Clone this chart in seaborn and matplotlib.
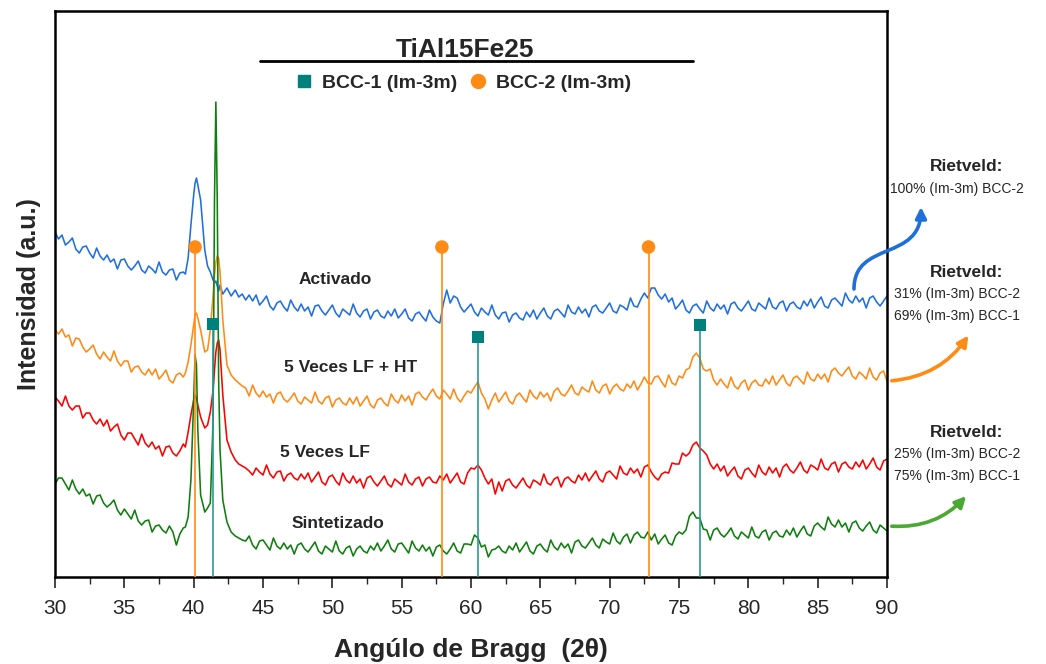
import matplotlib
matplotlib.use('Agg')
import matplotlib.pyplot as plt
from matplotlib.lines import Line2D
from matplotlib.patches import FancyArrowPatch
from matplotlib.path import Path
from matplotlib.ticker import MultipleLocator
import pandas as pd
import seaborn as sns

# 2-theta sampling: 0.25 deg steps, finer around the 40-42 deg peaks
two_theta = [
    30.0, 30.25, 30.5, 30.75, 31.0, 31.25, 31.5, 31.75,
    32.0, 32.25, 32.5, 32.75, 33.0, 33.25, 33.5, 33.75,
    34.0, 34.25, 34.5, 34.75, 35.0, 35.25, 35.5, 35.75,
    36.0, 36.25, 36.5, 36.75, 37.0, 37.25, 37.5, 37.75,
    38.0, 38.25, 38.5, 38.75, 39.0, 39.25,
    39.4, 39.6, 39.8, 40.0, 40.1, 40.2, 40.3, 40.5, 40.8, 41.0, 41.2, 41.4,
    41.5, 41.6, 41.7, 41.8, 41.9, 42.1, 42.4, 42.7, 43.0, 43.25, 43.5, 43.75,
    44.0, 44.25, 44.5, 44.75, 45.0, 45.25, 45.5, 45.75,
    46.0, 46.25, 46.5, 46.75, 47.0, 47.25, 47.5, 47.75,
    48.0, 48.25, 48.5, 48.75, 49.0, 49.25, 49.5, 49.75,
    50.0, 50.25, 50.5, 50.75, 51.0, 51.25, 51.5, 51.75,
    52.0, 52.25, 52.5, 52.75, 53.0, 53.25, 53.5, 53.75,
    54.0, 54.25, 54.5, 54.75, 55.0, 55.25, 55.5, 55.75,
    56.0, 56.25, 56.5, 56.75, 57.0, 57.25, 57.5, 57.75,
    58.0, 58.25, 58.5, 58.75, 59.0, 59.25, 59.5, 59.75,
    60.0, 60.25, 60.5, 60.75, 61.0, 61.25, 61.5, 61.75,
    62.0, 62.25, 62.5, 62.75, 63.0, 63.25, 63.5, 63.75,
    64.0, 64.25, 64.5, 64.75, 65.0, 65.25, 65.5, 65.75,
    66.0, 66.25, 66.5, 66.75, 67.0, 67.25, 67.5, 67.75,
    68.0, 68.25, 68.5, 68.75, 69.0, 69.25, 69.5, 69.75,
    70.0, 70.25, 70.5, 70.75, 71.0, 71.25, 71.5, 71.75,
    72.0, 72.25, 72.5, 72.75, 73.0, 73.25, 73.5, 73.75,
    74.0, 74.25, 74.5, 74.75, 75.0, 75.25, 75.5, 75.75,
    76.0, 76.25, 76.5, 76.75, 77.0, 77.25, 77.5, 77.75,
    78.0, 78.25, 78.5, 78.75, 79.0, 79.25, 79.5, 79.75,
    80.0, 80.25, 80.5, 80.75, 81.0, 81.25, 81.5, 81.75,
    82.0, 82.25, 82.5, 82.75, 83.0, 83.25, 83.5, 83.75,
    84.0, 84.25, 84.5, 84.75, 85.0, 85.25, 85.5, 85.75,
    86.0, 86.25, 86.5, 86.75, 87.0, 87.25, 87.5, 87.75,
    88.0, 88.25, 88.5, 88.75, 89.0, 89.25, 89.5, 89.75,
    90.0]

activado = [
    345, 338, 342, 332, 335, 339, 328, 324,
    330, 331, 324, 319, 329, 321, 317, 322,
    315, 318, 308, 317, 318, 311, 307, 311,
    316, 307, 304, 311, 308, 304, 315, 305,
    302, 307, 308, 297, 304, 305,
    303, 319, 352, 382, 394, 399, 392, 377, 327, 311, 305, 297,
    294, 296, 291, 286, 292, 283, 289, 281, 287, 280, 283, 277,
    282, 276, 282, 272, 276, 281, 271, 267,
    274, 276, 270, 266, 277, 270, 266, 273,
    266, 270, 261, 271, 272, 266, 262, 267,
    272, 264, 260, 268, 265, 262, 273, 264,
    260, 266, 268, 258, 265, 267, 261, 259,
    266, 261, 268, 259, 263, 268, 259, 256,
    263, 265, 260, 256, 267, 260, 256, 254,
    273, 287, 274, 281, 279, 270, 265, 269,
    273, 265, 261, 269, 265, 262, 272, 262,
    258, 264, 265, 255, 262, 264, 259, 257,
    265, 260, 267, 258, 264, 269, 261, 258,
    266, 268, 264, 260, 272, 265, 263, 270,
    264, 268, 260, 270, 272, 266, 264, 269,
    274, 266, 264, 272, 270, 267, 279, 271,
    270, 278, 284, 279, 289, 289, 282, 278,
    283, 275, 279, 268, 272, 277, 267, 264,
    271, 273, 268, 264, 276, 269, 266, 273,
    268, 272, 263, 273, 275, 269, 266, 271,
    276, 268, 266, 274, 271, 268, 279, 270,
    268, 274, 276, 266, 273, 275, 270, 268,
    276, 271, 278, 269, 275, 280, 271, 269,
    277, 279, 275, 271, 284, 277, 274, 281,
    275, 279, 269, 279, 281, 275, 271, 276,
    281]

lf_ht = [
    247, 243, 248, 240, 242, 231, 239, 238,
    230, 225, 228, 232, 223, 218, 225, 220,
    216, 226, 216, 211, 216, 216, 205, 210,
    211, 205, 202, 208, 202, 208, 198, 202,
    207, 197, 194, 202, 204, 200,
    204, 215, 232, 252, 262, 264, 259, 247, 225, 227, 247, 282,
    302, 315, 321, 319, 305, 257, 212, 202, 197, 194, 191, 189,
    181, 192, 184, 180, 186, 180, 183, 174,
    183, 185, 178, 175, 179, 184, 176, 173,
    180, 177, 174, 185, 176, 173, 179, 181,
    170, 177, 179, 174, 172, 179, 173, 180,
    171, 176, 181, 172, 169, 177, 179, 174,
    171, 183, 177, 174, 182, 176, 181, 172,
    183, 185, 180, 177, 183, 188, 181, 178,
    187, 183, 178, 188, 179, 175, 181, 186,
    184, 190, 195, 184, 178, 168, 177, 184,
    175, 180, 185, 176, 173, 181, 184, 179,
    175, 187, 181, 178, 185, 180, 184, 176,
    186, 189, 183, 181, 186, 192, 184, 182,
    190, 187, 185, 196, 187, 184, 191, 193,
    183, 190, 193, 188, 186, 193, 189, 196,
    187, 193, 200, 194, 193, 200, 201, 195,
    190, 202, 194, 192, 201, 199, 207, 209,
    220, 224, 219, 208, 206, 208, 197, 192,
    198, 193, 189, 200, 191, 188, 194, 197,
    187, 194, 197, 192, 191, 198, 193, 201,
    192, 197, 202, 194, 191, 199, 201, 197,
    193, 205, 198, 196, 203, 198, 203, 195,
    206, 209, 204, 201, 206, 210, 201, 198,
    205, 202, 198, 209, 200, 197, 204, 206,
    196]

lf = [
    180, 176, 171, 181, 171, 167, 171, 171,
    159, 164, 164, 157, 153, 158, 151, 157,
    146, 150, 153, 142, 137, 144, 144, 138,
    132, 143, 134, 130, 135, 128, 131, 121,
    130, 131, 124, 121, 126, 133,
    130, 145, 162, 177, 182, 179, 172, 160, 149, 152, 165, 187,
    207, 225, 234, 237, 227, 182, 137, 125, 117, 113, 111, 109,
    106, 102, 109, 105, 102, 112, 103, 99,
    105, 106, 96, 102, 104, 99, 97, 103,
    98, 104, 95, 100, 105, 95, 92, 100,
    102, 96, 92, 104, 97, 94, 101, 94,
    98, 89, 99, 101, 95, 91, 96, 101,
    93, 90, 98, 95, 92, 103, 95, 92,
    98, 100, 91, 98, 100, 95, 94, 101,
    97, 103, 94, 99, 104, 95, 93, 104,
    109, 108, 112, 107, 99, 93, 98, 83,
    95, 86, 96, 98, 92, 89, 94, 99,
    92, 89, 97, 95, 92, 103, 94, 92,
    98, 100, 90, 98, 100, 96, 94, 102,
    97, 104, 96, 101, 106, 98, 95, 104,
    106, 102, 98, 111, 104, 102, 109, 104,
    108, 100, 110, 112, 105, 100, 97, 103,
    105, 104, 114, 113, 113, 124, 121, 124,
    132, 135, 129, 126, 122, 113, 108, 113,
    106, 111, 101, 106, 110, 101, 98, 107,
    109, 104, 100, 112, 105, 102, 110, 104,
    109, 100, 110, 113, 107, 104, 109, 115,
    107, 104, 112, 110, 107, 118, 109, 107,
    113, 115, 105, 113, 115, 110, 108, 115,
    110, 117, 108, 113, 119, 110, 107, 116,
    118]

sintetizado = [
    93, 99, 99, 93, 87, 97, 88, 83,
    88, 81, 83, 73, 81, 82, 74, 70,
    73, 77, 67, 62, 68, 63, 58, 67,
    56, 52, 56, 57, 45, 51, 52, 47,
    44, 51, 45, 32, 43, 49,
    50, 60, 97, 177, 222, 212, 147, 82, 65, 69, 74, 157,
    377, 475, 377, 197, 127, 77, 55, 45, 41, 39, 37, 36,
    41, 32, 28, 36, 37, 32, 27, 39,
    31, 28, 34, 28, 32, 23, 32, 34,
    28, 25, 30, 35, 26, 23, 31, 28,
    25, 36, 26, 23, 29, 31, 21, 28,
    31, 26, 24, 31, 27, 34, 26, 31,
    37, 28, 25, 33, 34, 29, 24, 36,
    29, 26, 32, 26, 30, 21, 30, 32,
    26, 23, 28, 34, 26, 24, 33, 33,
    32, 42, 39, 30, 32, 20, 27, 28,
    31, 26, 24, 31, 27, 34, 25, 30,
    35, 26, 23, 31, 33, 28, 25, 37,
    30, 27, 34, 29, 33, 24, 35, 37,
    31, 29, 34, 39, 32, 29, 38, 35,
    33, 44, 36, 33, 40, 43, 34, 42,
    45, 40, 39, 45, 37, 43, 33, 38,
    42, 34, 32, 41, 45, 43, 47, 61,
    65, 59, 59, 48, 47, 37, 47, 49,
    43, 40, 44, 49, 41, 38, 45, 42,
    39, 50, 41, 39, 45, 47, 37, 44,
    46, 41, 40, 47, 42, 49, 40, 46,
    51, 43, 41, 51, 54, 50, 47, 60,
    53, 50, 57, 50, 54, 45, 54, 56,
    49, 46, 51, 55, 47, 44, 52, 49,
    46]

samples = ['Activado', '5 Veces LF + HT', '5 Veces LF', 'Sintetizado']
sample_colors = ['#1F6FE0', '#FF8A14', '#FF0000', '#0E7F0E']

# reference peak positions
bcc1_pos = [41.4, 60.5, 76.5]
bcc1_height = [253, 240, 252]
bcc2_pos = [40.1, 57.9, 72.8]
bcc2_height = [330, 330, 330]

rietveld_blocks = [['100% (Im-3m) BCC-2'],
                   ['31% (Im-3m) BCC-2', '69% (Im-3m) BCC-1'],
                   ['25% (Im-3m) BCC-2', '75% (Im-3m) BCC-1']]

df = pd.concat([pd.DataFrame({'two_theta': two_theta, 'intensity': vals, 'muestra': name})
                for name, vals in zip(samples, [activado, lf_ht, lf, sintetizado])],
               ignore_index=True)

sns.set_style('white')
plt.rcParams['font.family'] = ['Liberation Sans', 'DejaVu Sans']

teal = '#00807C'
orange = '#FF8A14'

fig = plt.figure(figsize=(10.46, 6.64), dpi=100)
ax = fig.add_axes([0.0526, 0.131, 0.7954, 0.8524])

sns.lineplot(data=df, x='two_theta', y='intensity', hue='muestra', hue_order=samples,
             palette=sample_colors, estimator=None, sort=False, linewidth=1.15,
             legend=False, ax=ax)

# reference lines + markers
ax.vlines(bcc2_pos, 0, bcc2_height, color=orange, lw=1.2, zorder=4)
ax.vlines(bcc1_pos, 0, bcc1_height, color='#2A9A98', lw=1.2, zorder=4)
sns.scatterplot(x=bcc2_pos, y=bcc2_height, marker='o', s=95, color=orange,
                edgecolor='none', zorder=5, ax=ax)
sns.scatterplot(x=bcc1_pos, y=bcc1_height, marker='s', s=70, color=teal,
                edgecolor='none', zorder=5, ax=ax)

ax.set_xlim(30, 90)
ax.set_ylim(0, 566)
ax.set_yticks([])
ax.xaxis.set_major_locator(MultipleLocator(5))
ax.xaxis.set_minor_locator(MultipleLocator(2.5))
ax.tick_params(axis='x', which='major', direction='out', length=8, width=1.2,
               labelsize=15, pad=8, bottom=True)
ax.tick_params(axis='x', which='minor', direction='out', length=5, width=1.0, bottom=True)
for sp in ax.spines.values():
    sp.set_linewidth(1.8)
    sp.set_color('black')

ax.set_xlabel('Angúlo de Bragg  (2θ)', fontsize=19, fontweight='bold', labelpad=14)
ax.set_ylabel('Intensidad (a.u.)', fontsize=18, fontweight='bold', labelpad=10)

# title block with underline and legend
ax.text(0.493, 0.932, 'TiAl15Fe25', transform=ax.transAxes, ha='center', va='center',
        fontsize=19, fontweight='bold')
ax.add_line(Line2D([0.246, 0.767], [0.912, 0.912], transform=ax.transAxes,
                   color='black', lw=2))
handles = [Line2D([], [], marker='s', color=teal, linestyle='', markersize=9),
           Line2D([], [], marker='o', color=orange, linestyle='', markersize=10)]
ax.legend(handles, ['BCC-1 (Im-3m)', 'BCC-2 (Im-3m)'], loc='center',
          bbox_to_anchor=(0.49, 0.873), ncol=2, frameon=False,
          prop={'weight': 'bold', 'size': 14}, handlelength=1.0,
          handletextpad=0.4, columnspacing=0.6)

# sample labels
label_pos = [(50.2, 298), (51.3, 210), (49.5, 125), (50.4, 54)]
for name, (lx, ly) in zip(samples, label_pos):
    ax.text(lx, ly, name, ha='center', va='center', fontsize=12.5, fontweight='bold')

# Rietveld notes on the right
block_y = [0.7485, 0.590, 0.349]
for by, lines in zip(block_y, rietveld_blocks):
    fig.text(0.9245, by, 'Rietveld:', ha='center', va='center', fontsize=12.5,
             fontweight='bold')
    for i, t in enumerate(lines):
        fig.text(0.915, by - 0.033 * (i + 1), t, ha='center', va='center', fontsize=10)


def px(x, y):
    return (x / 1046, 1 - y / 664)


blue_path = Path([px(854, 289), px(854, 240), px(921, 262), px(921, 207)],
                 [Path.MOVETO, Path.CURVE4, Path.CURVE4, Path.CURVE4])
fig.add_artist(FancyArrowPatch(path=blue_path, transform=fig.transFigure,
                               arrowstyle='-|>', mutation_scale=16, lw=2.6,
                               color='#1F6FD8'))
fig.add_artist(FancyArrowPatch(px(889, 381), px(970, 333), transform=fig.transFigure,
                               connectionstyle='arc3,rad=0.25', arrowstyle='-|>',
                               mutation_scale=16, lw=2.6, color='#FF8A14'))
fig.add_artist(FancyArrowPatch(px(889, 526), px(968, 494), transform=fig.transFigure,
                               connectionstyle='arc3,rad=0.25', arrowstyle='-|>',
                               mutation_scale=16, lw=2.6, color='#4BA832'))

fig.savefig('out.png', dpi=100)
